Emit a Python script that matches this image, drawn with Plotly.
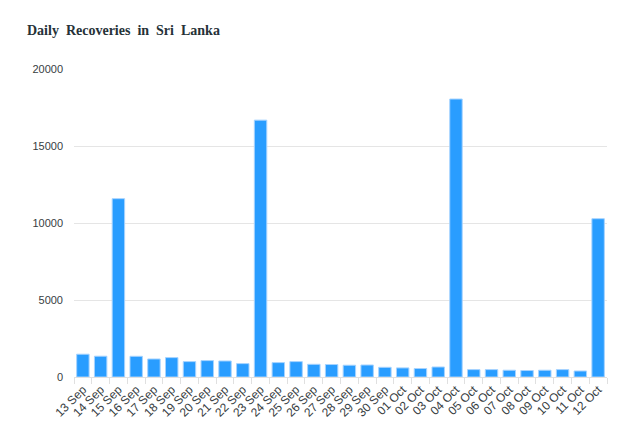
import plotly.graph_objects as go

dates = ["13 Sep", "14 Sep", "15 Sep", "16 Sep", "17 Sep", "18 Sep", "19 Sep", "20 Sep",
         "21 Sep", "22 Sep", "23 Sep", "24 Sep", "25 Sep", "26 Sep", "27 Sep", "28 Sep",
         "29 Sep", "30 Sep", "01 Oct", "02 Oct", "03 Oct", "04 Oct", "05 Oct", "06 Oct",
         "07 Oct", "08 Oct", "09 Oct", "10 Oct", "11 Oct", "12 Oct"]
recoveries = [1480, 1350, 11580, 1345, 1170, 1260, 1000, 1065, 1040, 870, 16680, 935,
              1000, 825, 810, 765, 780, 630, 590, 550, 650, 18050, 480, 480,
              440, 420, 440, 480, 390, 10280]
y_ticks = [0, 5000, 10000, 15000, 20000]
y_tick_labels = ["0", "5000", "10000", "15000", "20000"]

fig = go.Figure(go.Bar(
    x=dates, y=recoveries,
    marker=dict(color="#299dff", line=dict(color="#a6d3ff", width=1)),
    hoverinfo="x+y",
))

W, H = 625, 424
fig.update_layout(
    width=W, height=H,
    paper_bgcolor="white", plot_bgcolor="white",
    margin=dict(l=66, r=26, t=61, b=55),
    bargap=0.3,
    showlegend=False,
    title=dict(text="<b>Daily&nbsp; Recoveries&nbsp; in&nbsp; Sri&nbsp; Lanka</b>",
               x=19 / W, xanchor="left", y=1 - 22 / H, yanchor="middle",
               font=dict(family="Liberation Serif", size=14, color="#263238")),
    font=dict(family="Liberation Sans, Arial", size=12, color="#373d3f"),
)
fig.update_yaxes(range=[0, 20000], tickvals=y_ticks, ticktext=y_tick_labels,
                 showgrid=True, gridcolor="#e5e5e5",
                 zeroline=False, showline=False, ticklabelstandoff=10,
                 tickfont=dict(size=11))
fig.update_xaxes(type="category", tickangle=-45, showline=True, linecolor="#e0e0e0",
                 ticks="outside", tickson="boundaries", ticklen=6, tickcolor="#e0e0e0",
                 showgrid=False, tickfont=dict(size=12))

fig.write_html("out.html")
